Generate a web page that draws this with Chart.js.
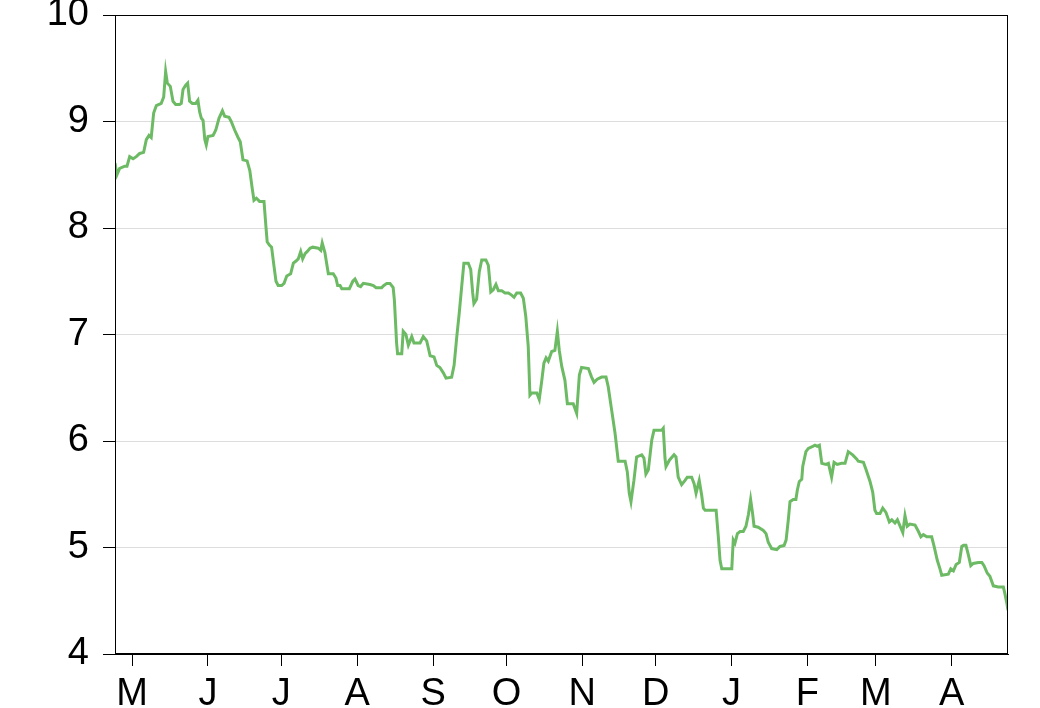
<!DOCTYPE html>
<html>
<head>
<meta charset="utf-8">
<script src="https://cdn.jsdelivr.net/npm/chart.js@4/dist/chart.umd.min.js"></script>
<style>
  html, body { margin: 0; padding: 0; background: #ffffff; }
  #wrap { width: 1040px; height: 708px; position: relative; }
</style>
</head>
<body>
<div id="wrap"><canvas id="c" width="1040" height="708"></canvas></div>
<script>
// Days counted from 24 April (x) (y)
const days = [
  0, 0.8, 1.9, 4.0, 4.9, 6.0, 7.4, 8.7, 10.1, 11.7, 12.8, 13.9, 14.8, 15.8, 16.9, 18.9, 19.9, 20.7, 21.4, 22.6,
  23.7, 24.8, 26.4, 27.1, 27.8, 28.9, 29.7, 30.5, 31.6, 33.0, 33.9, 34.6, 35.3, 36.0, 36.7, 37.3, 38.0, 40.1, 41.2, 42.5,
  43.9, 44.8, 46.6, 47.5, 48.9, 50.3, 51.2, 52.3, 54.0, 55.1, 56.1, 56.8, 57.8, 59.1, 60.2, 60.9, 61.7, 62.2, 63.1, 64.0,
  65.0, 65.8, 66.7, 68.1, 69.1, 70.2, 71.8, 72.9, 74.0, 74.9, 75.9, 76.7, 77.7, 78.6, 79.7, 80.8, 83.1, 84.1, 84.7, 85.8,
  86.5, 87.2, 89.2, 90.3, 91.0, 92.0, 92.7, 94.7, 95.8, 97.2, 98.1, 99.4, 100.4, 101.5, 104.2, 105.6, 106.7, 109.0, 109.9, 111.1,
  112.4, 113.7, 114.2, 114.7, 115.1, 115.5, 117.2, 117.8, 118.9, 119.9, 121.3, 122.2, 124.7, 126.0, 127.4, 128.8, 130.4, 131.5, 132.8, 134.2,
  135.3, 137.6, 138.6, 139.7, 140.7, 141.7, 142.6, 144.4, 145.4, 146.2, 146.7, 147.8, 148.9, 149.9, 151.6, 152.6, 153.6, 154.6, 155.7, 156.7,
  158.1, 159.4, 160.8, 162.1, 163.1, 164.2, 165.8, 166.9, 167.9, 168.9, 169.6, 170.3, 172.4, 173.4, 174.4, 175.3, 176.2, 177.1, 178.5, 179.8,
  180.8, 181.6, 182.6, 183.9, 184.9, 187.3, 188.7, 189.8, 190.7, 193.5, 194.8, 195.8, 197.1, 198.9, 200.7, 201.6, 203.0, 204.4, 205.7, 208.5,
  209.4, 210.2, 210.9, 212.1, 213.2, 215.3, 216.2, 217.0, 218.0, 219.4, 220.3, 222.1, 223.4, 224.1, 224.8, 225.2, 226.6, 228.5, 229.3, 230.2,
  231.6, 233.0, 233.9, 235.7, 236.7, 237.5, 238.8, 239.8, 240.5, 241.2, 245.7, 246.6, 247.3, 248.0, 252.1, 252.7, 253.4, 254.4, 255.5, 256.8,
  257.9, 258.9, 259.8, 260.6, 261.2, 262.9, 265.0, 266.1, 267.0, 268.4, 270.5, 271.8, 273.5, 274.3, 275.2, 275.9, 277.2, 278.3, 278.9, 279.7,
  280.7, 281.1, 282.4, 283.4, 285.2, 286.1, 287.0, 287.9, 288.9, 290.6, 291.6, 292.9, 293.9, 295.2, 297.0, 298.4, 299.7, 301.5, 303.2, 303.8,
  305.9, 307.0, 308.6, 309.7, 310.6, 311.3, 312.7, 313.8, 315.1, 316.5, 317.5, 318.8, 319.8, 320.9, 322.0, 322.9, 323.8, 324.9, 327.0, 328.4,
  329.4, 330.4, 331.8, 333.8, 334.8, 336.1, 337.2, 337.9, 340.6, 341.6, 342.7, 343.8, 345.1, 346.1, 346.8, 347.8, 348.8, 349.8, 350.8, 352.9,
  354.3, 355.2, 356.5, 357.6, 359.0, 361.0, 363.1, 363.8, 364.5, 365
];
const values = [
  8.61, 8.50, 8.56, 8.58, 8.58, 8.67, 8.65, 8.67, 8.70, 8.71, 8.83, 8.87, 8.85, 9.08, 9.15, 9.17, 9.23, 9.47, 9.36, 9.33,
  9.19, 9.16, 9.16, 9.17, 9.30, 9.34, 9.36, 9.19, 9.17, 9.17, 9.20, 9.09, 9.03, 9.01, 8.83, 8.78, 8.86, 8.87, 8.92, 9.03,
  9.10, 9.05, 9.04, 9.00, 8.92, 8.85, 8.81, 8.64, 8.63, 8.54, 8.37, 8.26, 8.28, 8.25, 8.25, 8.25, 8.01, 7.87, 7.84, 7.82,
  7.64, 7.50, 7.46, 7.46, 7.48, 7.55, 7.57, 7.67, 7.69, 7.71, 7.78, 7.71, 7.76, 7.78, 7.81, 7.82, 7.81, 7.79, 7.86, 7.77,
  7.67, 7.57, 7.57, 7.53, 7.46, 7.46, 7.43, 7.43, 7.43, 7.50, 7.52, 7.46, 7.45, 7.48, 7.47, 7.46, 7.44, 7.44, 7.46, 7.48,
  7.48, 7.44, 7.32, 7.10, 6.92, 6.82, 6.82, 7.03, 7.00, 6.90, 6.98, 6.92, 6.92, 6.98, 6.94, 6.80, 6.79, 6.71, 6.69, 6.64,
  6.59, 6.60, 6.71, 6.98, 7.20, 7.45, 7.67, 7.67, 7.61, 7.39, 7.29, 7.33, 7.59, 7.70, 7.70, 7.65, 7.40, 7.42, 7.47, 7.41,
  7.41, 7.39, 7.39, 7.37, 7.35, 7.39, 7.39, 7.34, 7.17, 6.89, 6.43, 6.45, 6.45, 6.39, 6.56, 6.73, 6.78, 6.75, 6.84, 6.85,
  7.03, 6.85, 6.70, 6.57, 6.35, 6.35, 6.26, 6.62, 6.69, 6.68, 6.60, 6.55, 6.58, 6.60, 6.60, 6.51, 6.29, 6.07, 5.81, 5.81,
  5.71, 5.51, 5.43, 5.63, 5.85, 5.87, 5.84, 5.69, 5.73, 6.01, 6.10, 6.10, 6.10, 6.12, 5.84, 5.76, 5.82, 5.87, 5.85, 5.66,
  5.59, 5.63, 5.66, 5.66, 5.60, 5.51, 5.63, 5.49, 5.37, 5.35, 5.35, 5.10, 4.88, 4.80, 4.80, 5.07, 5.04, 5.13, 5.15, 5.15,
  5.20, 5.31, 5.45, 5.32, 5.20, 5.19, 5.16, 5.13, 5.05, 4.99, 4.98, 5.01, 5.02, 5.07, 5.26, 5.43, 5.45, 5.45, 5.54, 5.62,
  5.64, 5.76, 5.90, 5.93, 5.95, 5.96, 5.95, 5.96, 5.79, 5.78, 5.79, 5.66, 5.80, 5.78, 5.79, 5.79, 5.90, 5.87, 5.83, 5.81,
  5.80, 5.73, 5.62, 5.52, 5.35, 5.32, 5.32, 5.37, 5.33, 5.24, 5.26, 5.23, 5.26, 5.20, 5.14, 5.30, 5.20, 5.22, 5.21, 5.15,
  5.10, 5.12, 5.10, 5.10, 5.01, 4.88, 4.80, 4.74, 4.75, 4.80, 4.78, 4.84, 4.86, 5.01, 5.02, 5.02, 4.93, 4.83, 4.85, 4.86,
  4.86, 4.83, 4.76, 4.73, 4.64, 4.63, 4.63, 4.56, 4.48, 4.41
];
// Month starts (days from 24 April) and their labels
const monthDays = [7, 38, 68, 99, 130, 160, 191, 221, 252, 283, 311, 342];
const monthLabels = ['M', 'J', 'J', 'A', 'S', 'O', 'N', 'D', 'J', 'F', 'M', 'A'];
const yTicks = [4, 5, 6, 7, 8, 9, 10];

const points = days.map((d, i) => ({ x: d, y: values[i] }));

const frame = {
  id: 'frame',
  afterDraw(chart) {
    const a = chart.chartArea, ctx = chart.ctx;
    ctx.save();
    ctx.strokeStyle = '#000';
    ctx.lineWidth = 1;
    ctx.strokeRect(Math.round(a.left) + 0.5, Math.round(a.top) + 0.5,
      Math.round(a.right - a.left) - 1, Math.round(a.bottom - a.top) - 1);
    ctx.restore();
  }
};

const font = { family: '"Liberation Sans", Arial, sans-serif', size: 38 };

new Chart(document.getElementById('c'), {
  type: 'line',
  data: {
    datasets: [{
      data: points,
      borderColor: '#6dba64',
      borderWidth: 3,
      pointRadius: 0,
      tension: 0,
      fill: false
    }]
  },
  options: {
    responsive: false,
    animation: false,
    events: [],
    layout: { padding: { top: 15, right: 32, left: 0, bottom: 0 } },
    plugins: { legend: { display: false }, tooltip: { enabled: false } },
    scales: {
      x: {
        type: 'linear',
        min: 0, max: 365,
        afterBuildTicks(s) { s.ticks = monthDays.map(v => ({ value: v })); },
        afterFit(s) { s.height = 54; s.paddingLeft = 0; s.paddingRight = 0; },
        ticks: {
          autoSkip: false, maxRotation: 0, padding: 6, color: '#000', font,
          callback(v) { const i = monthDays.indexOf(v); return i >= 0 ? monthLabels[i] : ''; }
        },
        grid: { drawOnChartArea: false, drawTicks: true, tickLength: 12, tickColor: '#000', color: '#000' },
        border: { display: true, color: '#000', width: 1 }
      },
      y: {
        min: 4, max: 10,
        afterBuildTicks(s) { s.ticks = yTicks.map(v => ({ value: v })); },
        afterFit(s) { s.width = 115; s.paddingTop = 0; s.paddingBottom = 0; },
        ticks: { padding: 14, color: '#000', font },
        grid: { color: '#dddddd', lineWidth: 1, drawTicks: true, tickLength: 12, tickColor: '#000' },
        border: { display: true, color: '#000', width: 1 }
      }
    }
  },
  plugins: [frame]
});
</script>
</body>
</html>
